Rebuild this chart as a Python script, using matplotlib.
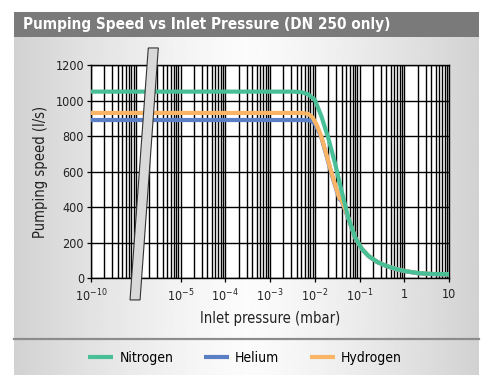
import numpy as np
import matplotlib
matplotlib.use('Agg')
import matplotlib.pyplot as plt
from matplotlib.patches import Rectangle, Polygon

plt.rcParams['font.family'] = ['DejaVu Sans']
plt.rcParams['font.stretch'] = 'condensed'
plt.rcParams['mathtext.default'] = 'regular'

# log10 of inlet pressure (mbar) and pumping speed (l/s)
n2_logp = [-10, -3, -2.5, -2.3, -2.15, -2.0, -1.85, -1.7, -1.55, -1.4, -1.25,
           -1.1, -0.95, -0.8, -0.6, -0.4, -0.2, 0.0, 0.3, 0.6, 1.0]
n2_speed = [1050, 1050, 1050, 1047, 1035, 1005, 910, 790, 650, 490, 340,
            230, 165, 125, 90, 68, 52, 40, 28, 23, 21]

h2_logp = [-10, -3, -2.3, -2.15, -2.05, -1.95, -1.85, -1.75, -1.65, -1.55,
           -1.45, -1.4, -1.25, -1.1, -0.95, -0.8, -0.6, -0.4, -0.2, 0.0, 0.3, 0.6, 1.0]
h2_speed = [930, 930, 930, 925, 905, 860, 795, 705, 615, 530,
            450, 440, 340, 230, 165, 125, 90, 68, 52, 40, 28, 23, 21]

he_logp = [-10, -3, -2.3, -2.1, -2.0, -1.9, -1.85, -1.75, -1.65, -1.55,
           -1.45, -1.4, -1.25, -1.1, -0.95, -0.8, -0.6, -0.4, -0.2, 0.0, 0.3, 0.6, 1.0]
he_speed = [890, 890, 890, 888, 870, 820, 790, 700, 610, 525,
            445, 435, 335, 228, 163, 123, 89, 67, 51, 39, 27, 22, 20]

x_ticks = [1e-10, 1e-5, 1e-4, 1e-3, 1e-2, 1e-1, 1, 10]
x_labels = ['$10^{-10}$', '$10^{-5}$', '$10^{-4}$', '$10^{-3}$', '$10^{-2}$',
            '$10^{-1}$', '1', '10']
y_ticks = [0, 200, 400, 600, 800, 1000, 1200]

green = '#48bf97'
blue = '#5b7fc4'
orange = '#f9b565'


# broken log axis: 1e-10..1e-9 then 1e-6..10
def fwd(x):
    u = np.log10(np.clip(x, 1e-12, None))
    return np.where(u <= -9, u + 10, u + 7)


def inv(v):
    return np.where(v <= 1, 10.0 ** (v - 10), 10.0 ** (v - 7))


fig = plt.figure(figsize=(4.95, 3.9), dpi=100)

# background panel
bg = fig.add_axes([0, 0, 1, 1])
bg.set_xlim(0, 495)
bg.set_ylim(390, 0)
bg.axis('off')
t = np.linspace(0, 1, 300)
shade = 0.985 - 0.20 * np.abs(t - 0.5) ** 1.3 * 2
grad = np.tile(shade, (20, 1))
bg.imshow(grad, cmap='gray', vmin=0, vmax=1, extent=(14, 479, 375, 37),
          aspect='auto', interpolation='bilinear')
bg.add_patch(Rectangle((14, 12), 465, 25, color='#7a7a7a', lw=0))
bg.plot([14, 479], [339, 339], color='#8c8c8c', lw=1.6)
bg.text(23, 25, 'Pumping Speed vs Inlet Pressure (DN 250 only)', color='white',
        fontsize=11, fontweight='bold', va='center', ha='left')

ax = fig.add_axes([91 / 495, 1 - 278 / 390, 358 / 495, 213 / 390])
ax.set_facecolor('white')
ax.set_xscale('function', functions=(fwd, inv))
ax.set_xlim(1e-10, 10)
ax.set_ylim(0, 1200)

minor = [k * 10.0 ** n for n in [-10] for k in range(2, 10)] + [1e-9]
minor += [k * 10.0 ** n for n in range(-6, 1) for k in range(2, 10)]
ax.set_xticks(x_ticks)
ax.set_xticklabels(x_labels)
ax.set_xticks(minor, minor=True)
ax.set_yticks(y_ticks)

ax.grid(True, which='both', axis='x', color='black', lw=1.0)
ax.grid(True, which='major', axis='y', color='black', lw=1.0)
ax.tick_params(which='major', length=3, width=0.9, color='black',
               labelsize=9, labelcolor='#222222', pad=2)
ax.tick_params(axis='x', which='major', pad=4)
ax.tick_params(which='minor', length=0)
for s in ax.spines.values():
    s.set_color('black')
    s.set_linewidth(1.0)

l_he, = ax.plot(10.0 ** np.array(he_logp), he_speed, color=blue, lw=3, zorder=3,
                solid_capstyle='butt', label='Helium')
l_h2, = ax.plot(10.0 ** np.array(h2_logp), h2_speed, color=orange, lw=3, zorder=4,
                solid_capstyle='butt', label='Hydrogen')
l_n2, = ax.plot(10.0 ** np.array(n2_logp), n2_speed, color=green, lw=3, zorder=5,
                solid_capstyle='butt', label='Nitrogen')

# axis break band
band = Polygon([(0.109, -0.103), (0.137, -0.103), (0.188, 1.08), (0.160, 1.08)],
               closed=True, transform=ax.transAxes, clip_on=False,
               facecolor='#d9d9d9', edgecolor='#333333', lw=0.8, zorder=6)
ax.add_patch(band)

ax.set_ylabel('Pumping speed (l/s)', fontsize=10.5, color='#222222', labelpad=5)
ax.set_xlabel('Inlet pressure (mbar)', fontsize=10.5, color='#222222', labelpad=5)

fig.legend(handles=[l_n2, l_he, l_h2], loc='center',
           bbox_to_anchor=(245 / 495, 1 - 358 / 390), ncol=3, frameon=False,
           fontsize=10, handlelength=1.8, handletextpad=0.45, columnspacing=2.2)

fig.savefig('out.png', dpi=100)
